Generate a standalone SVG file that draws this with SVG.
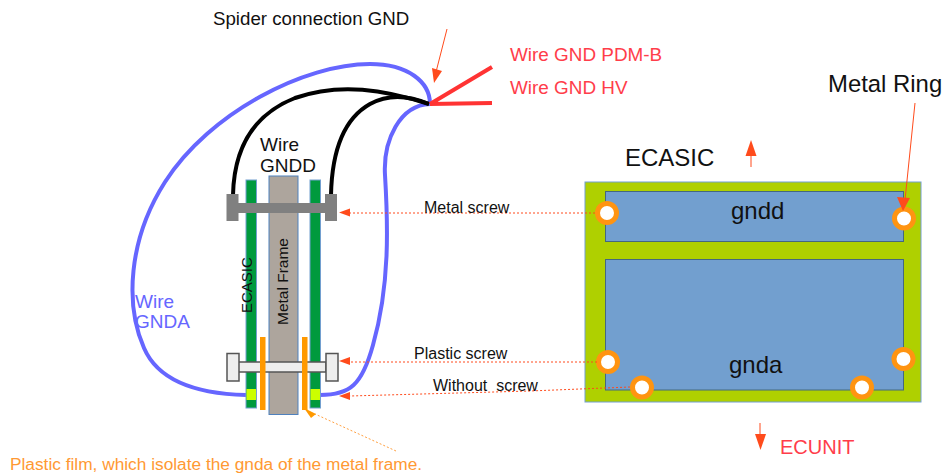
<svg xmlns="http://www.w3.org/2000/svg" width="944" height="474" viewBox="0 0 944 474">
<style>
text{font-family:"Liberation Sans",Arial,sans-serif;fill:#111}
.g{fill:#009a3d;stroke:#729fcf;stroke-width:1}
.o{fill:#ff9900}
.y{fill:#ccff00}
.gs{fill:#808080}
.ws{fill:#eeeeee;stroke:#555;stroke-width:1.5}
.blue{fill:none;stroke:#6666ff;stroke-width:4}
.blk{fill:none;stroke:#000;stroke-width:4}
.redw{fill:none;stroke:#ff3333;stroke-width:4}
.dash{fill:none;stroke:#ff4b1c;stroke-width:1;stroke-dasharray:2 2}
.thin{fill:none;stroke:#ff4b1c;stroke-width:1}
.ah{fill:#ff4b1c}
.ring{fill:#fff;stroke:#ff9411;stroke-width:5}
.r{fill:#ff3d4a}
</style>
<g id="wires">
<path class="blue" d="M246 395C205 394 160 385 144 348C125 305 128 240 165 182C210 112 305 64 370 64C408 64 430 82 430 104"/>
<path class="blue" d="M320 395C350 395 362 385 373 345C390 285 388 225 385 175C383 140 400 105 430 104"/>
<path class="blk" d="M233 195C234 150 252 115 295 98C340 82 385 90 429 104"/>
<path class="blk" d="M331 195C332 150 345 118 370 104C390 93 410 96 429 104"/>
<path class="redw" d="M430 104L492 67M430 104L492 103"/>
</g>
<g id="metal-frame"><rect x="269" y="176" width="29" height="238.500" fill="#ada59d" stroke="#4f81bd" stroke-width="1"/></g>
<g id="ecasic-left"><rect class="g" x="246" y="180" width="10.500" height="228"/><rect class="y" x="246.500" y="389" width="9.500" height="11"/></g>
<g id="ecasic-right"><rect class="g" x="310" y="180" width="10.500" height="228"/><rect class="y" x="310.500" y="389" width="9.500" height="11"/></g>
<g id="metal-screw"><rect class="gs" x="238" y="203" width="88" height="10"/><rect class="gs" x="226.500" y="194" width="12" height="27"/><rect class="gs" x="325" y="194" width="12" height="27"/></g>
<g id="plastic-screw"><rect class="ws" x="238" y="362" width="88" height="10"/><rect class="ws" x="227" y="353.500" width="12" height="27.500"/><rect class="ws" x="326" y="353.500" width="12" height="27.500"/></g>
<g id="films"><rect class="o" x="260" y="337" width="5.500" height="73"/><rect class="o" x="302" y="337" width="5.500" height="73"/></g>
<g id="board">
<rect x="585" y="182" width="336" height="220" fill="#afd000" stroke="#729fcf" stroke-width="1"/>
<rect x="605.500" y="191.500" width="298" height="50" fill="#729fcf" stroke="#44687f" stroke-width="1"/>
<rect x="605.500" y="259.500" width="298" height="130.500" fill="#729fcf" stroke="#44687f" stroke-width="1"/>
</g>
<g id="rings">
<circle class="ring" cx="607" cy="213" r="9.500"/><circle class="ring" cx="904" cy="218.500" r="9.500"/><circle class="ring" cx="608" cy="362" r="9.500"/><circle class="ring" cx="903.500" cy="359" r="9.500"/><circle class="ring" cx="642" cy="387.500" r="9.500"/><circle class="ring" cx="862" cy="387.500" r="9.500"/>
</g>
<g id="connectors">
<path class="thin" d="M447 29L436 72"/><path class="ah" d="M434 83L432 68L442 71Z"/>
<path class="thin" d="M751 167V152"/><path class="ah" d="M751 140L756.500 156H745.500Z"/>
<path class="thin" d="M760 423V438"/><path class="ah" d="M760.500 450L755 434H766Z"/>
<path class="thin" d="M915 103L905 200"/><path class="ah" d="M903 211L897 197L910 198Z"/>
<path class="dash" d="M595 213H350"/><path class="ah" d="M339 212.500L350 208.500V216.500Z"/>
<path class="dash" d="M597 362H350"/><path class="ah" d="M339 361L350 357V365Z"/>
<path class="dash" d="M630 387L530 391L350 396"/><path class="ah" d="M339 396L350 392V400Z"/>
<path d="M396 451L315 414" fill="none" stroke="#ffa040" stroke-width="1" stroke-dasharray="2 2"/><path fill="#ff9900" d="M304 408L316 414L311 418Z"/>
</g>
<g id="labels">
<text x="213" y="25" font-size="18.700">Spider connection GND</text>
<text x="510" y="61" font-size="18.900" class="r">Wire GND PDM-B</text>
<text x="510" y="94" font-size="18.900" class="r">Wire GND HV</text>
<text x="828" y="92" font-size="23.900">Metal Ring</text>
<text x="625" y="166" font-size="24">ECASIC</text>
<text x="260" y="151" font-size="19">Wire</text>
<text x="260" y="172" font-size="19">GNDD</text>
<text x="135" y="308" font-size="19" style="fill:#6666ff">Wire</text>
<text x="135" y="328" font-size="19" style="fill:#6666ff">GNDA</text>
<text x="731" y="219" font-size="24">gndd</text>
<text x="729" y="373" font-size="24">gnda</text>
<text x="424" y="213" font-size="16">Metal screw</text>
<text x="414" y="359" font-size="16">Plastic screw</text>
<text x="433" y="391" font-size="16" xml:space="preserve">Without  screw</text>
<text x="780" y="454" font-size="20" class="r">ECUNIT</text>
<text x="10" y="470" font-size="17.300" style="fill:#ff9933">Plastic film, which isolate the gnda of the metal frame.</text>
<text transform="translate(252 313) rotate(-90)" font-size="15">ECASIC</text>
<text transform="translate(288 325) rotate(-90)" font-size="15.500">Metal Frame</text>
</g>
</svg>
